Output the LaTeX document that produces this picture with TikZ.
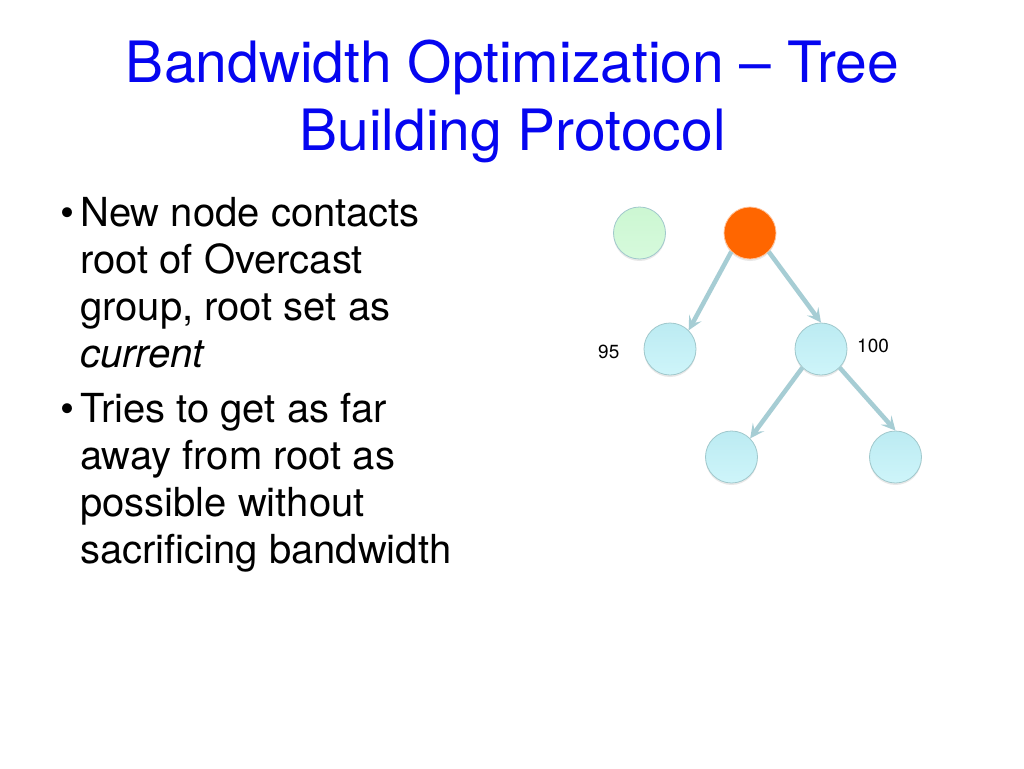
\documentclass[tikz,border=0pt]{standalone}
\usepackage{fontspec}
\setmainfont{TeX Gyre Heros}
\usepackage{xcolor}
\usepackage{tikz}
\usetikzlibrary{positioning,arrows.meta,shadows}

\definecolor{titleblue}{RGB}{5,5,240}
\definecolor{rootorange}{RGB}{255,102,0}
\definecolor{newgreen}{RGB}{204,247,210}
\definecolor{newgreenlow}{RGB}{214,250,220}
\definecolor{peertop}{RGB}{188,235,242}
\definecolor{peerlow}{RGB}{206,245,250}
\definecolor{peerrim}{RGB}{160,200,204}
\definecolor{linkblue}{RGB}{166,205,212}

\begin{document}
\begin{tikzpicture}[x=1pt,y=-1pt,
    peer/.style={circle, minimum size=52pt, inner sep=0pt, draw=peerrim, line width=0.8pt,
        top color=peertop, bottom color=peerlow,
        drop shadow={shadow xshift=0pt, shadow yshift=-2pt, opacity=0.18}},
    link/.style={-{Stealth[length=14pt,width=14pt,inset=6pt]}, line width=4.5pt, draw=linkblue},
    bodytext/.style={anchor=base west, inner sep=0pt, font=\fontsize{40}{47}\selectfont}]
        \fill[white] (0,0) rectangle (1024,768);
        \useasboundingbox (0,0) rectangle (1024,768);

        % title
        \node[anchor=base, inner sep=0pt, text=titleblue, font=\fontsize{57}{68}\selectfont] (title1) at (512.5,82) {Bandwidth Optimization -- Tree};
        \node[anchor=base, inner sep=0pt, text=titleblue, font=\fontsize{57}{68}\selectfont] (title2) at (512.5,150) {Building Protocol};

        % bullets
        \node[bodytext] (dot1) at (60,226) {\textbullet};
        \node[bodytext] (dot2) at (60,422) {\textbullet};
        \foreach \i/\y/\txt in {1/226/New node contacts, 2/273/root of Overcast, 3/320/{group, root set as}, 4/367/\textit{current},
                5/422/Tries to get as far, 6/469/away from root as, 7/516/possible without, 8/563/sacrificing bandwidth} {
            \node[bodytext] (line\i) at (80,\y) {\txt};
        }

        % tree
        \node[peer, top color=newgreen, bottom color=newgreenlow] (newnode) at (639.5,233) {};
        \node[peer, draw=rootorange!40!white, top color=rootorange, bottom color=rootorange] (root) at (750,233) {};
        \node[peer] (left) at (670,349) {};
        \node[peer] (current) at (821,349) {};
        \node[peer] (leafl) at (731.5,457) {};
        \node[peer] (leafr) at (895.5,457) {};

        \draw[link] (root.south west) -- (left.north east);
        \draw[link] (root.south east) -- (current.north);
        \draw[link] (current.south west) -- (leafl.north east);
        \draw[link] (current.south east) -- (leafr.north);

        \node[anchor=base west, inner sep=0pt, font=\fontsize{19}{23}\selectfont] (bw95) at (598,358) {95};
        \node[anchor=base west, inner sep=0pt, font=\fontsize{19}{23}\selectfont] (bw100) at (857,352) {100};
    \end{tikzpicture}
\end{document}
